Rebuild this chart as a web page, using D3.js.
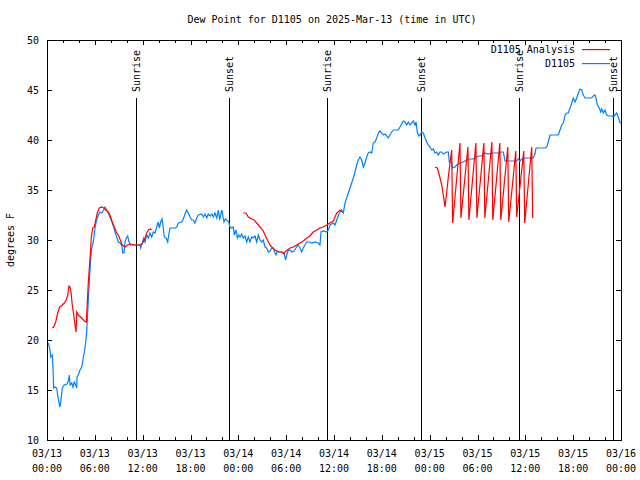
<!DOCTYPE html>
<html><head><meta charset="utf-8">
<script src="https://cdn.jsdelivr.net/npm/d3@7"></script>
<style>
body{margin:0;background:#fff;}
svg{display:block;}
text{font-family:"DejaVu Sans Mono",monospace;font-size:10px;fill:#000;}
</style></head>
<body>
<svg id="chart" width="640" height="480"></svg>
<script>
// ---- data (hours after 2025-03-13 00:00 UTC) ----
const titleText = "Dew Point for D1105 on 2025-Mar-13 (time in UTC)";
const yLabel = "degrees F";
const yTicks = [10,15,20,25,30,35,40,45,50];
const seriesNames = ["D1105 Analysis","D1105"];
const sunEventHours = [11.2, 22.87, 35.16, 46.95, 59.24, 71.03];
const sunEventNames = ["Sunrise","Sunset","Sunrise","Sunset","Sunrise","Sunset"];

const obsHours = [0.16,0.34,0.46,0.66,0.75,0.84,1.00,1.22,1.34,1.51,1.63,1.76,1.92,2.17,2.51,2.67,2.80,2.89,3.10,3.26,3.42,3.60,3.73,3.76,3.93,4.14,4.35,4.55,4.77,4.98,5.11,5.23,5.36,5.48,5.61,5.81,6.02,6.23,6.44,6.65,6.86,7.11,7.28,7.49,7.69,7.94,8.19,8.37,8.53,8.74,8.94,9.16,9.37,9.50,9.66,9.78,9.95,10.12,10.29,10.45,11.67,11.75,11.95,12.13,12.29,12.51,12.71,12.92,13.13,13.33,13.55,13.76,13.96,14.09,14.26,14.43,14.59,14.71,14.93,15.14,15.27,15.43,16.06,16.27,16.47,16.90,17.10,17.31,17.52,17.72,17.94,18.15,18.35,18.56,18.78,18.98,19.41,19.61,19.82,20.03,20.23,20.45,20.70,20.86,21.07,21.29,21.49,21.66,21.83,21.95,22.08,22.20,22.37,22.54,22.79,22.95,23.17,23.37,23.49,23.71,23.87,24.05,24.21,24.42,24.62,24.84,25.05,25.25,25.46,25.68,25.88,26.09,26.30,26.51,26.72,26.93,27.13,27.35,27.56,27.76,27.97,28.19,28.39,28.60,28.72,28.89,29.14,29.44,29.73,29.94,30.07,30.23,30.48,30.73,30.98,31.23,31.48,31.74,31.95,32.15,32.36,32.58,32.90,33.20,33.62,34.03,34.24,34.37,34.66,35.09,35.29,35.50,35.91,36.13,36.34,36.67,36.97,37.17,37.38,37.59,37.80,38.01,38.22,38.42,38.63,38.85,39.05,39.26,39.47,39.68,39.89,40.10,40.30,40.52,40.73,40.93,41.14,41.36,41.56,41.77,41.98,42.18,42.40,42.61,42.81,43.02,43.24,43.44,44.07,44.28,44.49,44.69,44.91,45.12,45.32,45.53,45.75,45.95,46.16,46.29,46.45,46.63,46.79,47.00,47.20,47.42,47.63,47.83,48.04,48.26,48.46,48.67,48.88,49.08,49.30,49.51,49.71,49.92,50.13,50.34,50.46,50.76,50.89,51.18,51.39,51.80,52.22,52.64,53.06,53.47,53.90,54.10,54.53,54.94,55.36,55.78,56.20,56.61,57.04,57.24,57.45,57.86,58.49,58.92,59.12,59.33,59.54,59.96,60.59,61.00,61.21,61.34,61.84,62.47,62.68,62.88,63.10,63.51,64.14,64.35,64.56,64.77,64.98,65.19,65.39,65.61,65.82,66.02,66.23,66.45,66.65,66.86,67.07,67.27,67.49,68.33,68.53,68.74,68.86,69.03,69.28,69.45,69.58,69.78,69.99,70.21,70.41,70.83,71.03,71.25,71.46,71.66,71.88,72.00];
const obsValues = [19.7,19.2,18.3,18.5,17.2,15.2,15.3,15.2,14.5,13.7,13.3,14.0,15.2,15.5,15.6,15.9,16.5,15.5,15.7,15.3,15.8,15.5,15.2,16.3,16.5,17.0,17.3,18.2,19.2,20.8,22.8,24.8,26.5,28.2,29.2,29.8,31.2,32.0,32.5,32.8,32.7,33.0,33.3,33.0,32.7,32.2,31.7,31.3,30.8,30.3,29.8,29.7,29.5,28.7,28.7,29.8,30.2,30.4,29.8,29.5,29.5,29.2,29.7,30.2,29.8,30.5,30.2,30.7,30.3,30.8,30.7,31.3,31.8,31.2,31.8,32.1,31.2,30.3,30.2,29.8,30.5,31.2,31.2,31.3,31.7,31.8,32.1,32.6,33.0,32.7,32.3,32.0,32.0,31.7,32.2,32.5,32.6,32.3,32.6,32.2,32.6,32.4,32.6,32.3,32.7,32.2,33.0,32.0,32.7,33.0,32.3,31.8,32.1,32.0,31.8,31.3,31.2,31.3,30.5,31.0,30.2,30.5,30.3,30.6,30.2,30.4,29.8,30.3,29.8,30.3,30.2,30.4,29.8,30.5,30.0,29.8,30.0,29.3,29.2,28.8,28.9,29.2,29.2,28.7,28.5,28.9,28.8,28.8,28.7,28.0,28.5,28.9,29.0,28.8,28.9,29.2,29.5,29.2,28.8,29.2,29.5,29.8,29.8,29.7,29.8,29.7,29.5,30.8,30.9,30.8,31.0,31.5,31.7,31.5,32.0,32.7,33.0,32.7,33.7,34.2,34.7,35.2,35.7,36.2,36.8,37.5,38.0,38.3,38.0,37.3,37.7,38.3,38.7,38.8,38.7,39.7,39.8,40.2,40.7,40.9,40.7,40.5,40.6,40.4,40.2,40.5,40.8,41.0,41.0,41.3,41.6,41.9,41.8,41.5,41.8,41.5,41.7,41.9,41.5,41.8,40.8,40.4,40.5,40.8,40.7,40.2,39.8,39.5,39.3,39.0,39.1,38.7,38.8,38.5,38.8,38.8,38.6,38.7,38.8,38.8,37.8,37.8,37.2,37.3,37.5,37.7,37.8,38.0,38.1,38.1,38.3,38.4,38.4,38.7,38.6,38.7,38.7,38.7,38.8,38.8,37.9,37.9,37.9,37.9,38.1,37.9,38.1,38.2,38.2,38.2,38.6,39.2,39.2,39.2,39.3,39.8,40.5,40.5,40.5,41.0,41.5,41.7,42.5,42.7,42.7,43.2,43.7,44.2,43.8,44.2,44.7,45.1,45.0,44.5,44.2,44.2,44.4,44.5,44.2,43.5,43.2,42.8,43.1,42.7,43.0,42.5,42.4,42.4,42.3,42.5,42.7,42.3,41.7,41.7];

// analysis series: null entries separate the runs
const anaHours = [0.66,0.84,1.09,1.34,1.59,1.92,2.17,2.42,2.60,2.76,2.89,3.01,3.17,3.35,3.51,3.64,3.73,3.93,4.35,4.68,4.93,5.06,5.18,5.31,5.43,5.56,5.73,5.93,6.11,6.31,6.56,6.86,7.11,7.36,7.69,7.94,8.19,8.44,8.69,8.94,9.19,9.44,9.78,10.12,10.45,11.04,11.67,11.88,12.08,12.29,12.51,12.71,12.92,13.13,
  null,
  24.62,24.96,25.25,25.68,25.97,26.30,26.72,27.06,27.35,27.64,27.97,28.31,28.60,29.01,29.44,29.73,29.85,30.14,30.48,30.90,31.32,31.74,32.15,32.58,32.99,33.40,33.83,34.24,34.66,35.09,35.50,35.91,36.34,36.76,37.04,
  null,
  48.67,48.96,49.21,49.51,49.71,49.92,50.13,50.34,50.55,50.76,50.88,51.80,51.92,52.80,52.92,53.80,53.92,54.80,54.92,55.80,55.92,56.80,56.92,57.80,57.92,58.80,58.92,59.80,59.92,60.80,60.92];
const anaValues = [21.2,21.3,21.8,22.7,23.3,23.5,23.7,24.0,24.5,25.4,25.3,24.8,23.5,22.5,21.5,20.8,22.8,22.5,22.2,21.9,21.8,23.8,25.7,27.2,28.5,30.3,31.2,31.3,32.0,32.7,33.2,33.3,33.2,33.0,32.8,32.4,31.8,31.3,30.8,30.5,30.0,29.5,29.3,29.5,29.6,29.5,29.5,29.6,29.8,30.2,30.7,31.0,31.1,31.0,
  null,
  32.7,32.7,32.3,32.1,32.0,31.7,31.3,31.0,30.5,30.0,29.5,29.2,29.0,28.8,28.8,28.6,28.8,29.0,29.2,29.3,29.5,29.7,29.9,30.2,30.4,30.8,31.0,31.2,31.3,31.5,31.7,31.9,32.7,33.0,32.8,
  null,
  37.3,37.2,36.5,35.5,34.5,33.3,34.7,36.3,37.7,39.0,31.7,39.7,32.2,39.3,32.0,39.7,32.2,39.7,32.2,39.8,32.0,39.7,32.0,39.3,31.8,38.9,32.3,38.9,31.7,39.3,32.2];

// ---- drawing ----
const T0 = Date.UTC(2025,2,13);
const toDate = h => new Date(T0 + h*3600000);
const L = 47, R = 621, T = 40, B = 440;
const svg = d3.select("#chart");
const x = d3.scaleUtc().domain([toDate(0), toDate(72)]).range([L, R]);
const y = d3.scaleLinear().domain([10, 50]).range([B, T]);

const blue = "#0080ff", red = "#ff0000";

// title
svg.append("text").attr("x", 332).attr("y", 23).attr("text-anchor","middle").text(titleText);
// y label
svg.append("text").attr("transform","translate(14,240) rotate(-90)").attr("text-anchor","middle").text(yLabel);

const axes = svg.append("g").attr("shape-rendering","crispEdges");
// y axis left
axes.append("g").attr("transform",`translate(${L},0)`)
  .call(d3.axisLeft(y).tickValues(yTicks).tickSizeInner(-5).tickSizeOuter(0).tickPadding(8).tickFormat(d3.format("d")))
  .call(g => g.select(".domain").remove())
  .call(g => g.selectAll("text").style("font-family",'"DejaVu Sans Mono",monospace').style("font-size","10px"));
// y axis right (mirror)
axes.append("g").attr("transform",`translate(${R},0)`)
  .call(d3.axisRight(y).tickValues(yTicks).tickSizeInner(-5).tickSizeOuter(0).tickFormat(""))
  .call(g => g.select(".domain").remove());
// x minor ticks (every 2h) bottom & top
const minorT = d3.utcHour.every(2).range(toDate(0), toDate(72.01));
const majorT = d3.utcHour.every(6).range(toDate(0), toDate(72.01));
axes.append("g").attr("transform",`translate(0,${B})`)
  .call(d3.axisBottom(x).tickValues(minorT).tickSizeInner(-3).tickSizeOuter(0).tickFormat(""))
  .call(g => g.select(".domain").remove());
axes.append("g").attr("transform",`translate(0,${T})`)
  .call(d3.axisTop(x).tickValues(minorT).tickSizeInner(-3).tickSizeOuter(0).tickFormat(""))
  .call(g => g.select(".domain").remove());
axes.append("g").attr("transform",`translate(0,${B})`)
  .call(d3.axisBottom(x).tickValues(majorT).tickSizeInner(-5).tickSizeOuter(0).tickFormat(""))
  .call(g => g.select(".domain").remove());
axes.append("g").attr("transform",`translate(0,${T})`)
  .call(d3.axisTop(x).tickValues(majorT).tickSizeInner(-5).tickSizeOuter(0).tickFormat(""))
  .call(g => g.select(".domain").remove());
// two-line x tick labels
const fmtD = d3.utcFormat("%m/%d"), fmtT = d3.utcFormat("%H:%M");
const lab = svg.append("g").selectAll("text").data(majorT).join("text")
  .attr("text-anchor","middle")
  .attr("transform", d => `translate(${x(d)},0)`);
lab.append("tspan").attr("x",0).attr("y",457).text(fmtD);
lab.append("tspan").attr("x",0).attr("y",472).text(fmtT);

// sunrise / sunset lines
const ev = svg.append("g");
ev.selectAll("line").data(sunEventHours).join("line")
  .attr("x1", h => Math.round(x(toDate(h)))+0.5).attr("x2", h => Math.round(x(toDate(h)))+0.5)
  .attr("y1", y(10)).attr("y2", y(44.2))
  .attr("stroke","#000").attr("stroke-width",1).attr("shape-rendering","crispEdges");
ev.selectAll("text").data(sunEventHours).join("text")
  .attr("transform", (h) => `translate(${Math.round(x(toDate(h)))+4},92) rotate(-90)`)
  .attr("text-anchor","start")
  .text((h,i) => sunEventNames[i]);

// data lines
const line = d3.line().defined(d => d[0] !== null && d[1] !== null)
  .x(d => x(toDate(d[0]))).y(d => y(d[1]));
const obsData = obsHours.map((h,i) => [h, obsValues[i]]);
const anaData = anaHours.map((h,i) => [h, anaValues[i]]);
svg.append("path").datum(obsData).attr("d", line)
  .style("fill","none").style("stroke", blue).style("stroke-width","1.2px");
svg.append("path").datum(anaData).attr("d", line)
  .style("fill","none").style("stroke", red).style("stroke-width","1.2px");

// border
axes.append("rect").attr("x", L+0.5).attr("y", T+0.5).attr("width", R-L).attr("height", B-T)
  .style("fill","none").style("stroke","#000");

// legend
const leg = svg.append("g");
const legColors = [red, blue];
seriesNames.forEach((n,i) => {
  const yy = 49 + i*14;
  leg.append("text").attr("x",575).attr("y",yy+4).attr("text-anchor","end").text(n);
  leg.append("rect").attr("x",582).attr("y",yy).attr("width",28).attr("height",1.2)
    .style("fill",legColors[i]).style("stroke","none");
});
</script>
</body></html>
